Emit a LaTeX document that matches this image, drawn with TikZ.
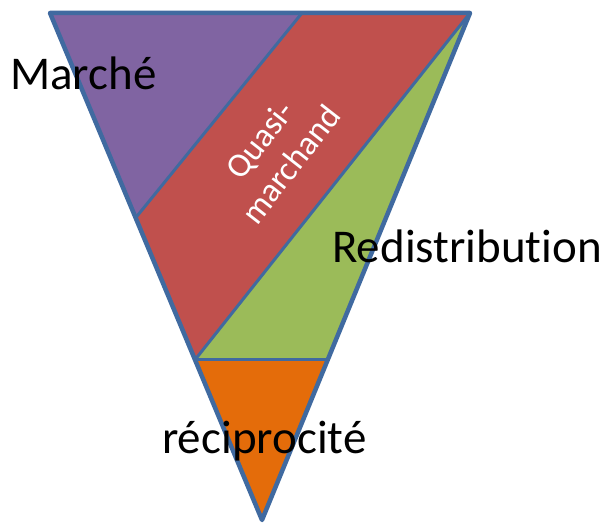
\documentclass[tikz,border=0pt]{standalone}
\usepackage{fontspec}
\setmainfont[Ligatures=NoCommon]{Carlito}
\usetikzlibrary{calc}
\definecolor{edge}{RGB}{64,106,160}
\definecolor{cpurple}{RGB}{128,100,162}
\definecolor{cred}{RGB}{192,80,77}
\definecolor{cgreen}{RGB}{155,187,89}
\definecolor{corange}{RGB}{228,108,10}
\begin{document}
\begin{tikzpicture}[x=1pt,y=-1pt,
  region/.style={draw=edge,line width=3pt,line join=round},
  lab/.style={font=\fontsize{47}{56}\selectfont,inner sep=0pt,anchor=base west}]
\useasboundingbox (0,0) rectangle (602,526);
\coordinate (TL) at (50,13);
\coordinate (TR) at (470,13);
\coordinate (B) at (262,520);
\coordinate (P1) at (302,13);
\coordinate (P2) at ($(TL)!0.404!(B)$);
\coordinate (G1) at ($(TL)!0.684!(B)$);
\coordinate (G2) at ($(TR)!0.684!(B)$);
\fill[cpurple] (TL) -- (P1) -- (P2) -- cycle;
\fill[cred] (P1) -- (TR) -- (G1) -- (P2) -- cycle;
\fill[cgreen] (TR) -- (G2) -- (G1) -- cycle;
\fill[corange] (G1) -- (G2) -- (B) -- cycle;
\draw[region] (P1) -- (P2);
\draw[region] (TR) -- (G1);
\draw[region] (G1) -- (G2);
\draw[draw=edge,line width=4.5pt,line join=round] (TL) -- (TR) -- (B) -- cycle;
\node[lab] (m) at (10,90) {Marché};
\node[lab] (r) at (332,263) {Redistribution};
\node[lab] (c) at (162,453) {réciprocité};
\node[font=\fontsize{34}{40}\selectfont,text=white,align=center,rotate=52,inner sep=0pt] (q) at (275,152) {Quasi-\\marchand};
\end{tikzpicture}
\end{document}
